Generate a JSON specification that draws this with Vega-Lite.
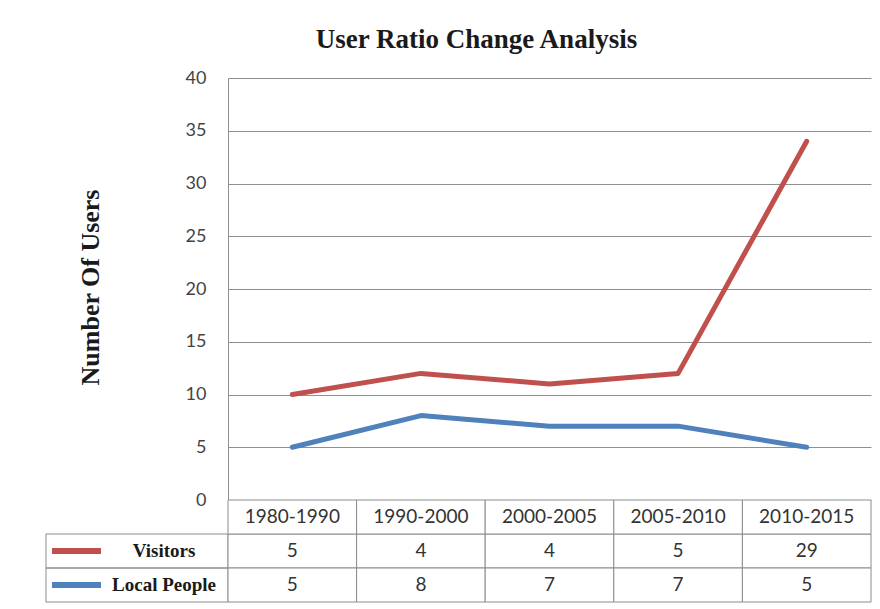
{
  "$schema": "https://vega.github.io/schema/vega-lite/v6.json",
  "datasets": {
    "users": [
      {"period": "1980-1990", "series": "Visitors", "users": 5},
      {"period": "1990-2000", "series": "Visitors", "users": 4},
      {"period": "2000-2005", "series": "Visitors", "users": 4},
      {"period": "2005-2010", "series": "Visitors", "users": 5},
      {"period": "2010-2015", "series": "Visitors", "users": 29},
      {"period": "1980-1990", "series": "Local People", "users": 5},
      {"period": "1990-2000", "series": "Local People", "users": 8},
      {"period": "2000-2005", "series": "Local People", "users": 7},
      {"period": "2005-2010", "series": "Local People", "users": 7},
      {"period": "2010-2015", "series": "Local People", "users": 5}
    ]
  },
  "title": {
    "text": "User Ratio Change Analysis",
    "font": "Liberation Serif",
    "fontSize": 27,
    "fontWeight": "bold",
    "color": "#1a1a1a",
    "anchor": "middle",
    "baseline": "alphabetic",
    "dx": 18,
    "offset": -6
  },
  "padding": {"left": 45, "top": 26, "right": 10, "bottom": 7},
  "columns": 2,
  "spacing": 0,
  "bounds": "flush",
  "align": "each",
  "resolve": {
    "scale": {"x": "independent", "y": "independent", "color": "independent"},
    "legend": {"color": "independent"}
  },
  "config": {"view": {"stroke": null}, "background": "white"},
  "concat": [
    {
      "width": 182,
      "height": 10,
      "data": {"values": []},
      "mark": "rect"
    },
    {
      "width": 643,
      "height": 422,
      "data": {"name": "users"},
      "transform": [
        {
          "stack": "users",
          "groupby": ["period"],
          "sort": [{"field": "series", "order": "ascending"}],
          "as": ["users_start", "users_end"]
        }
      ],
      "mark": {"type": "line", "strokeWidth": 5, "strokeCap": "round", "strokeJoin": "round"},
      "encoding": {
        "x": {
          "field": "period",
          "type": "ordinal",
          "sort": ["1980-1990", "1990-2000", "2000-2005", "2005-2010", "2010-2015"],
          "scale": {"type": "point", "padding": 0.5},
          "axis": null
        },
        "y": {
          "field": "users_end",
          "type": "quantitative",
          "scale": {"domain": [0, 40], "nice": false},
          "axis": {
            "title": "Number Of Users",
            "titleFont": "Liberation Serif",
            "titleFontSize": 26,
            "titleFontWeight": "bold",
            "titleColor": "#1a1a1a",
            "titleBaseline": "middle",
            "titleX": -138,
            "titleY": 209,
            "values": [0, 5, 10, 15, 20, 25, 30, 35, 40],
            "grid": true,
            "gridColor": "#8f8f8f",
            "gridOpacity": 1,
            "domainColor": "#8f8f8f",
            "ticks": false,
            "labelFont": "Lato",
            "labelFontSize": 18,
            "labelColor": "#444444",
            "labelPadding": 22
          }
        },
        "color": {
          "field": "series",
          "type": "nominal",
          "scale": {"domain": ["Visitors", "Local People"], "range": ["#C0504D", "#4F81BD"]},
          "legend": {
            "orient": "none",
            "legendX": -179,
            "legendY": 456,
            "title": null,
            "padding": 0,
            "symbolType": "stroke",
            "symbolSize": 2401,
            "symbolStrokeWidth": 6,
            "labelFont": "Liberation Serif",
            "labelFontSize": 19,
            "labelFontWeight": "bold",
            "labelColor": "#1a1a1a",
            "labelAlign": "center",
            "labelOffset": 60,
            "clipHeight": 34,
            "rowPadding": 0
          }
        }
      }
    },
    {
      "width": 182,
      "height": 102,
      "data": {"name": "users"},
      "transform": [{"filter": "datum.period === '1980-1990'"}],
      "mark": {"type": "rect", "filled": false, "stroke": "#8c8c8c", "strokeWidth": 1},
      "encoding": {
        "y": {
          "field": "series",
          "type": "nominal",
          "scale": {"domain": ["Period", "Visitors", "Local People"], "paddingInner": 0, "paddingOuter": 0},
          "axis": null
        }
      }
    },
    {
      "width": 643,
      "height": 102,
      "data": {"name": "users"},
      "encoding": {
        "x": {
          "field": "period",
          "type": "nominal",
          "sort": ["1980-1990", "1990-2000", "2000-2005", "2005-2010", "2010-2015"],
          "scale": {"type": "band", "paddingInner": 0, "paddingOuter": 0},
          "axis": null
        }
      },
      "layer": [
        {
          "mark": {"type": "rect", "fill": "white", "stroke": "#8c8c8c", "strokeWidth": 1},
          "encoding": {
            "y": {
              "field": "series",
              "type": "nominal",
              "scale": {"domain": ["Period", "Visitors", "Local People"], "paddingInner": 0, "paddingOuter": 0},
              "axis": null
            }
          }
        },
        {
          "transform": [{"filter": "datum.series === 'Visitors'"}],
          "mark": {"type": "rect", "fill": "white", "stroke": "#8c8c8c", "strokeWidth": 1},
          "encoding": {"y": {"datum": "Period", "type": "nominal"}}
        },
        {
          "mark": {"type": "text", "font": "Lato", "fontSize": 19, "color": "#333333", "align": "center", "baseline": "middle"},
          "encoding": {
            "y": {"field": "series", "type": "nominal"},
            "text": {"field": "users", "type": "quantitative"}
          }
        },
        {
          "transform": [{"filter": "datum.series === 'Visitors'"}],
          "mark": {"type": "text", "font": "Lato", "fontSize": 19, "color": "#333333", "align": "center", "baseline": "middle"},
          "encoding": {
            "y": {"datum": "Period", "type": "nominal"},
            "text": {"field": "period", "type": "nominal"}
          }
        }
      ]
    }
  ]
}
